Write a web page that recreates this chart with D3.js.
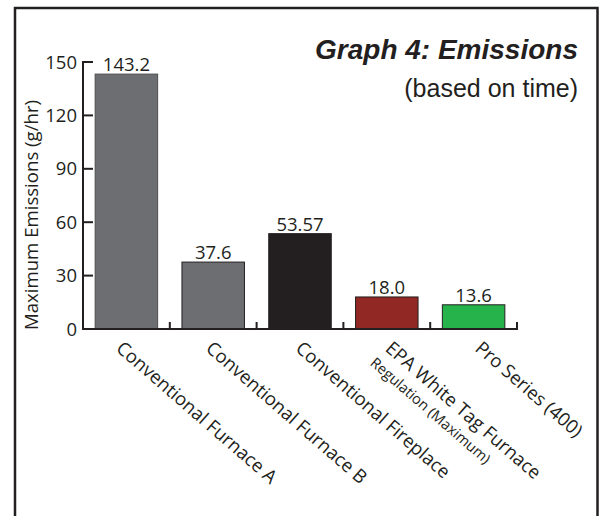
<!DOCTYPE html>
<html>
<head>
<meta charset="utf-8">
<script src="https://cdn.jsdelivr.net/npm/d3@7"></script>
<style>
  html, body { margin: 0; padding: 0; background: #fff; }
  svg { display: block; }
</style>
</head>
<body>
<svg id="chart" width="602" height="516"></svg>
<script>
// ---- data ----
const categories = ["Conventional Furnace A", "Conventional Furnace B", "Conventional Fireplace", "EPA White Tag Furnace", "Pro Series (400)"];
const subLabels = ["", "", "", "Regulation (Maximum)", ""];
const values = [143.2, 37.6, 53.57, 18.0, 13.6];
const valueLabels = ["143.2", "37.6", "53.57", "18.0", "13.6"];
const barColors = ["#6d6e71", "#6d6e71", "#231f20", "#912824", "#26b34b"];
const yTicks = [0, 30, 60, 90, 120, 150];
const titleText = "Graph 4: Emissions";
const subtitleText = "(based on time)";
const yTitle = "Maximum Emissions (g/hr)";

// ---- layout ----
const svg = d3.select("#chart");
const ink = "#231f20";
const font = "'Open Sans', 'Noto Sans', sans-serif";
const x0 = 83, x1 = 517, yBase = 329, yTop = 62;

const x = d3.scaleBand().domain(categories).range([x0, x1]).padding(0);
const y = d3.scaleLinear().domain([0, 150]).range([yBase, yTop]);
const barW = x.bandwidth() * 0.72;
const labelX = d3.scalePoint().domain(categories).range([115, 474]);

// frame
svg.append("rect")
  .attr("x", 15).attr("y", 8).attr("width", 582.5).attr("height", 560)
  .attr("fill", "none").attr("stroke", ink).attr("stroke-width", 2.5);

// title
svg.append("text")
  .attr("x", 578).attr("y", 59).attr("text-anchor", "end")
  .attr("font-family", "'Liberation Sans', Arial, sans-serif")
  .attr("font-weight", "bold").attr("font-style", "italic")
  .attr("font-size", 28).attr("fill", ink)
  .text(titleText);
svg.append("text")
  .attr("x", 578).attr("y", 97).attr("text-anchor", "end")
  .attr("font-family", "'Liberation Sans', Arial, sans-serif")
  .attr("font-size", 25).attr("fill", ink)
  .text(subtitleText);

// bars
svg.selectAll("rect.bar").data(categories).join("rect")
  .attr("class", "bar")
  .attr("x", d => x(d) + (x.bandwidth() - barW) / 2)
  .attr("y", (d, i) => y(values[i]))
  .attr("width", barW)
  .attr("height", (d, i) => y(0) - y(values[i]))
  .attr("fill", (d, i) => barColors[i])
  .attr("stroke", (d, i) => i === 0 ? "#4d4d4f" : ink)
  .attr("stroke-width", 1);

// value labels
svg.selectAll("text.val").data(categories).join("text")
  .attr("class", "val")
  .attr("x", d => x(d) + x.bandwidth() / 2)
  .attr("y", (d, i) => y(values[i]) - 3)
  .attr("text-anchor", "middle")
  .attr("font-family", font).attr("font-size", 18.5).attr("fill", ink)
  .text((d, i) => valueLabels[i]);

// y axis
const yAxis = svg.append("g");
yAxis.append("line")
  .attr("x1", x0).attr("x2", x0).attr("y1", y(150) - 1).attr("y2", y(0) + 1)
  .attr("stroke", ink).attr("stroke-width", 2);
yAxis.selectAll("line.tk").data(yTicks).join("line")
  .attr("class", "tk")
  .attr("x1", x0).attr("x2", x0 + 10)
  .attr("y1", d => y(d)).attr("y2", d => y(d))
  .attr("stroke", ink).attr("stroke-width", 2);
yAxis.selectAll("text").data(yTicks).join("text")
  .attr("x", x0 - 6).attr("y", d => y(d))
  .attr("dy", "0.36em")
  .attr("text-anchor", "end")
  .attr("font-family", font).attr("font-size", 18.5).attr("fill", ink)
  .text(d => d);

// y title
svg.append("text")
  .attr("transform", "translate(38,215) rotate(-90)")
  .attr("text-anchor", "middle")
  .attr("font-family", font).attr("font-size", 18.6).attr("fill", ink)
  .text(yTitle);

// x axis
const xAxis = svg.append("g");
xAxis.append("line")
  .attr("x1", x0 - 1).attr("x2", x1 + 1).attr("y1", yBase).attr("y2", yBase)
  .attr("stroke", ink).attr("stroke-width", 2);
xAxis.selectAll("line.tk").data(categories).join("line")
  .attr("class", "tk")
  .attr("x1", d => x(d) + x.bandwidth()).attr("x2", d => x(d) + x.bandwidth())
  .attr("y1", yBase).attr("y2", yBase - 7)
  .attr("stroke", ink).attr("stroke-width", 2);

// x labels
const angle = 41;
const lab = svg.selectAll("g.xl").data(categories).join("g")
  .attr("class", "xl")
  .attr("transform", d => `translate(${labelX(d)},350) rotate(${angle})`);
lab.append("text")
  .attr("font-family", font).attr("font-size", 18.6).attr("fill", ink)
  .text(d => d);
lab.append("text")
  .attr("x", -2).attr("y", 20.5)
  .attr("font-family", font).attr("font-size", 14.6).attr("fill", ink)
  .text((d, i) => subLabels[i]);
</script>
</body>
</html>
